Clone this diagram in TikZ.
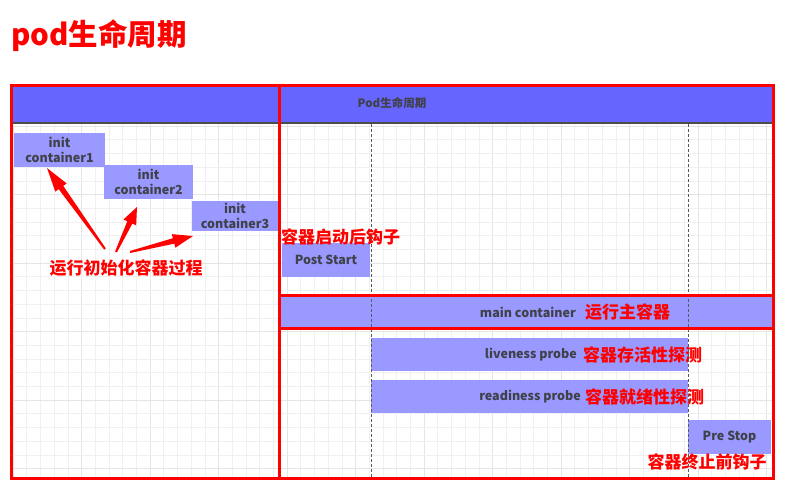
\documentclass[tikz,border=0pt]{standalone}
\usepackage{fontspec}
\setmainfont{Noto Sans CJK SC}
\usetikzlibrary{calc}
\definecolor{boxblue}{HTML}{9999FF}
\definecolor{headblue}{HTML}{6666FF}
\definecolor{pred}{HTML}{FF0000}
\definecolor{txtgray}{HTML}{404048}
\newcommand\wedgearrow[3]{%
  \fill[pred] ($(#1)!1pt!90:(#2)$)
    -- ($(#2)!#3!(#1)!2.8pt!-90:(#1)$)
    -- ($(#2)!#3!(#1)!7pt!-90:(#1)$)
    -- (#2)
    -- ($(#2)!#3!(#1)!7pt!90:(#1)$)
    -- ($(#2)!#3!(#1)!2.8pt!90:(#1)$)
    -- ($(#1)!1pt!-90:(#2)$) -- cycle;}
\begin{document}
\begin{tikzpicture}[x=1pt,y=-1pt,
  gridline/.style={draw=gray!12, line width=0.6pt},
  gridmajor/.style={draw=gray!20, line width=0.6pt},
  pbox/.style={fill=boxblue, draw=none, inner sep=0pt, align=center,
    text=txtgray, font=\fontsize{12.5}{15}\selectfont\bfseries},
  boxtext/.style={text=txtgray, inner sep=0pt, font=\fontsize{12.5}{15}\selectfont\bfseries},
  redlabel/.style={text=pred, inner sep=0pt, font=\fontsize{17}{19}\selectfont\bfseries},
  redframe/.style={draw=pred, line width=3pt},
  dashline/.style={draw=gray!70!black, line width=0.7pt, dash pattern=on 3pt off 2pt}]
\useasboundingbox (0,0) rectangle (789,491);
\fill[white] (0,0) rectangle (789,491);
% title
\node[anchor=west, text=pred, inner sep=0pt, font=\fontsize{29.5}{31}\selectfont\bfseries] (title) at (11,36) {pod生命周期};
% grid
\foreach \i in {0,...,55} {
  \pgfmathtruncatemacro\m{mod(\i,5)}
  \ifnum\m=0 \draw[gridmajor] ({13+\i*13.7},123) -- ({13+\i*13.7},478);
  \else \draw[gridline] ({13+\i*13.7},123) -- ({13+\i*13.7},478); \fi
}
\foreach \j in {0,...,25} {
  \pgfmathtruncatemacro\m{mod(\j,5)}
  \ifnum\m=0 \draw[gridmajor] (11,{126+\j*13.7}) -- (773,{126+\j*13.7});
  \else \draw[gridline] (11,{126+\j*13.7}) -- (773,{126+\j*13.7}); \fi
}
% header bar
\fill[headblue] (11,85) rectangle (773,123);
\draw[gray!60!black, line width=1.2pt] (11,123) -- (773,123);
\node[text=txtgray, inner sep=0pt, font=\fontsize{11.5}{13}\selectfont\bfseries] (hdr) at (392,103) {Pod生命周期};
% init containers
\node[pbox, minimum width=91pt, minimum height=34pt] (ic1) at (59.5,150) {init\\container1};
\node[pbox, minimum width=89pt, minimum height=34pt] (ic2) at (148.5,182) {init\\container2};
\node[pbox, minimum width=86pt, minimum height=30pt] (ic3) at (235,216) {init\\container3};
% post start
\node[pbox, minimum width=88pt, minimum height=34pt] (ps) at (326,260) {Post Start};
% main container
\node[fill=boxblue, inner sep=0pt, minimum width=494pt, minimum height=33pt] (mc) at (526,311.5) {};
\node[boxtext, anchor=east] (mct) at (576,312) {main container};
\node[redlabel, anchor=west] (mcl) at (585,312) {运行主容器};
% liveness / readiness
\node[fill=boxblue, inner sep=0pt, minimum width=317pt, minimum height=33pt] (lp) at (529.5,354.5) {};
\node[boxtext, anchor=east] (lpt) at (577,355) {liveness probe};
\node[redlabel, anchor=west] (lpl) at (583,355) {容器存活性探测};
\node[fill=boxblue, inner sep=0pt, minimum width=317pt, minimum height=33pt] (rp) at (529.5,396.5) {};
\node[boxtext, anchor=east] (rpt) at (581,397) {readiness probe};
\node[redlabel, anchor=west] (rpl) at (585,397) {容器就绪性探测};
% pre stop
\node[pbox, minimum width=83pt, minimum height=34pt] (pst) at (729.5,437) {Pre Stop};
% dashed lines
\coordinate (d1t) at (371,124); \coordinate (d1b) at (371,477);
\coordinate (d2t) at (688,124); \coordinate (d2b) at (688,477);
\draw[dashline] (d1t) -- (d1b);
\draw[dashline] (d2t) -- (d2b);
% red labels
\node[redlabel] (initl) at (126,268) {运行初始化容器过程};
\node[redlabel, anchor=west] (psl) at (281,237) {容器启动后钩子};
\node[redlabel] (prel) at (707,462) {容器终止前钩子};
% red frames
\draw[redframe] (11,85) rectangle (773,478);
\draw[redframe] (279,85) -- (279,478);
\draw[redframe] (279,295) -- (773,295);
\draw[redframe] (279,328) -- (773,328);
% arrows
\coordinate (a1s) at (105,249); \coordinate (a1e) at (47,168);
\coordinate (a2s) at (116,252); \coordinate (a2e) at (137,207);
\coordinate (a3s) at (130,252); \coordinate (a3e) at (193,236);
\wedgearrow{a1s}{a1e}{24pt}
\wedgearrow{a2s}{a2e}{17pt}
\wedgearrow{a3s}{a3e}{20pt}
\end{tikzpicture}
\end{document}
